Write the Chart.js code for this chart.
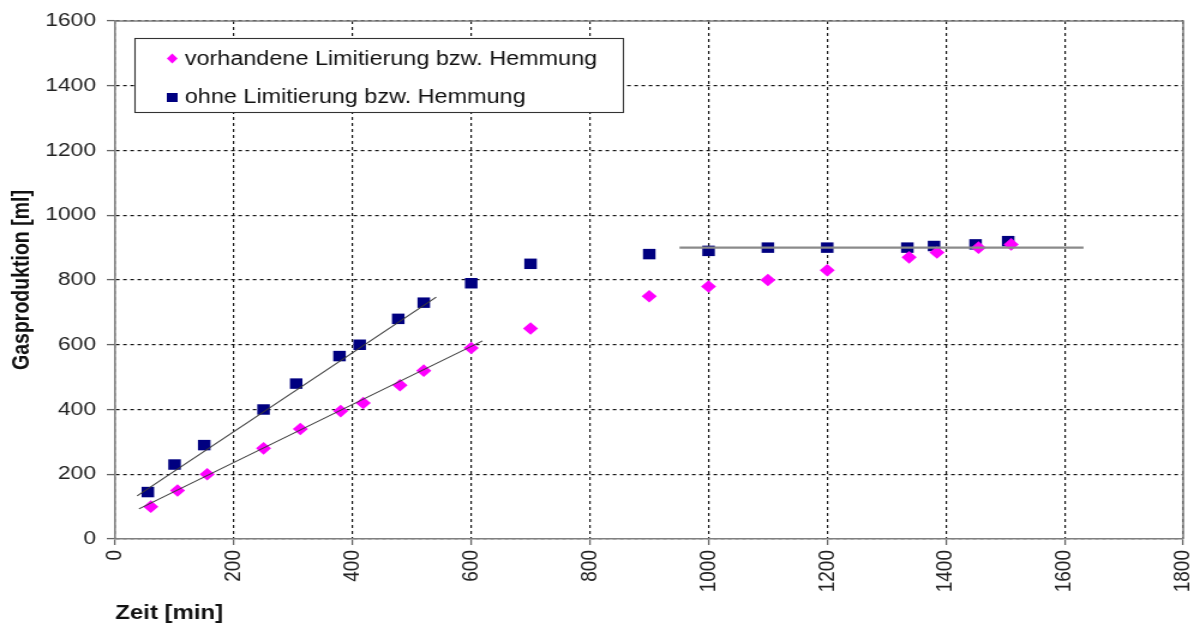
<!DOCTYPE html>
<html>
<head>
<meta charset="utf-8">
<script src="https://cdn.jsdelivr.net/npm/chart.js@4.4.1/dist/chart.umd.min.js"></script>
<style>
  html, body { margin: 0; padding: 0; background: #ffffff; overflow: hidden; }
  /* the chart is laid out 995px wide and widened to the 1194px page */
  #wrap { width: 995px; height: 626px; transform: scaleX(1.2); transform-origin: 0 0; }
  #c { display: block; }
</style>
</head>
<body>
<div id="wrap"><canvas id="c" width="995" height="626" style="width:995px;height:626px"></canvas></div>
<script>
// Measured gas production over time (minutes, ml)
const seriesLabels = ['vorhandene Limitierung bzw. Hemmung', 'ohne Limitierung bzw. Hemmung'];

const timeLimited = [60, 105, 155, 250, 312, 380, 418, 480, 520, 600, 700, 900, 1000, 1100, 1200, 1338, 1385, 1455, 1510];
const gasLimited  = [100, 150, 200, 280, 340, 395, 420, 475, 520, 590, 650, 750, 780, 800, 830, 870, 885, 900, 910];

const timeFree = [55, 100, 150, 250, 305, 378, 412, 477, 520, 600, 700, 900, 1000, 1100, 1200, 1335, 1380, 1450, 1505];
const gasFree  = [145, 230, 290, 400, 480, 565, 600, 680, 730, 790, 850, 880, 890, 900, 900, 900, 905, 910, 920];

// Linear trend lines (start / end points)
const trendFreeX = [37, 541];
const trendFreeY = [133, 747];
const trendLimitedX = [40, 619];
const trendLimitedY = [93, 612];
const plateauX = [951, 1632];
const plateauY = [900, 900];

const xTicks = [0, 200, 400, 600, 800, 1000, 1200, 1400, 1600, 1800];
const yTicks = [0, 200, 400, 600, 800, 1000, 1200, 1400, 1600];

const toPoints = (xs, ys) => xs.map((x, i) => ({ x: x, y: ys[i] }));

const FONT = "'Liberation Sans', Arial, sans-serif";

// Frame around the plot area and an in-plot legend box
const framePlugin = {
  id: 'frame',
  afterDraw(chart) {
    const { ctx, chartArea: a } = chart;
    ctx.save();
    ctx.strokeStyle = '#808080';
    ctx.lineWidth = 1.6;
    ctx.beginPath();
    ctx.moveTo(a.left, a.top);
    ctx.lineTo(a.right, a.top);
    ctx.lineTo(a.right, a.bottom);
    ctx.stroke();

    // legend
    const bx = a.left + 16.5, by = a.top + 17.5, bw = 407, bh = 74;
    ctx.fillStyle = '#ffffff';
    ctx.fillRect(bx, by, bw, bh);
    ctx.strokeStyle = '#333333';
    ctx.lineWidth = 1.1;
    ctx.strokeRect(bx, by, bw, bh);

    const mx = bx + 31;
    const rows = [by + 20, by + 59];
    // diamond
    ctx.fillStyle = '#ff00ff';
    ctx.beginPath();
    ctx.moveTo(mx, rows[0] - 5);
    ctx.lineTo(mx + 4.5, rows[0]);
    ctx.lineTo(mx, rows[0] + 5);
    ctx.lineTo(mx - 4.5, rows[0]);
    ctx.closePath();
    ctx.fill();
    // square
    ctx.fillStyle = '#000080';
    ctx.fillRect(mx - 4.5, rows[1] - 4.5, 9, 9);

    ctx.fillStyle = '#111111';
    ctx.font = '19.5px ' + FONT;
    ctx.textBaseline = 'middle';
    ctx.textAlign = 'left';
    ctx.fillText(seriesLabels[0], bx + 41.5, rows[0] + 1);
    ctx.fillText(seriesLabels[1], bx + 41.5, rows[1]);
    ctx.restore();
  }
};

const trendStyle = {
  showLine: true,
  pointRadius: 0,
  pointHoverRadius: 0,
  fill: false,
  borderColor: '#3a3a3a',
  borderWidth: 1.1
};

const gridOpts = {
  color: '#151515',
  lineWidth: 1.2,
  borderDash: [3, 3],
  drawTicks: true,
  tickColor: '#666666',
  tickBorderDash: [],
  tickWidth: 1.3
};

new Chart(document.getElementById('c'), {
  type: 'scatter',
  data: {
    datasets: [
      Object.assign({ data: toPoints(trendFreeX, trendFreeY) }, trendStyle),
      Object.assign({ data: toPoints(trendLimitedX, trendLimitedY) }, trendStyle),
      Object.assign({ data: toPoints(plateauX, plateauY) }, trendStyle, { borderColor: '#8a8a8a', borderWidth: 2.4 }),
      {
        label: seriesLabels[0],
        data: toPoints(timeLimited, gasLimited),
        pointStyle: 'rectRot',
        pointRadius: 6.3,
        backgroundColor: '#ff00ff',
        borderColor: '#ff00ff',
        borderWidth: 0
      },
      {
        label: seriesLabels[1],
        data: toPoints(timeFree, gasFree),
        pointStyle: 'rect',
        pointRadius: 7.4,
        backgroundColor: '#000080',
        borderColor: '#000080',
        borderWidth: 0
      }
    ]
  },
  options: {
    responsive: false,
    maintainAspectRatio: false,
    animation: false,
    devicePixelRatio: 1,
    layout: { padding: { top: 21, right: 9, left: 0, bottom: 0 } },
    plugins: {
      legend: { display: false },
      tooltip: { enabled: false }
    },
    scales: {
      x: {
        type: 'linear',
        min: 0,
        max: 1800,
        afterBuildTicks(scale) { scale.ticks = xTicks.map(v => ({ value: v })); },
        afterFit(scale) {
          scale.height = 87;
          scale.paddingLeft = 0;
          scale.paddingRight = 0;
        },
        border: { display: true, color: '#808080', width: 1.6, dash: [3, 3] },
        grid: Object.assign({ tickLength: 6 }, gridOpts),
        ticks: {
          minRotation: 90,
          maxRotation: 90,
          padding: 5,
          color: '#222222',
          font: { family: FONT, size: 19 },
          callback: v => String(v)
        },
        title: {
          display: true,
          text: 'Zeit [min]',
          align: 'start',
          color: '#111111',
          font: { family: FONT, size: 20, weight: 'bold' },
          padding: { top: 0, bottom: 1 }
        }
      },
      y: {
        type: 'linear',
        min: 0,
        max: 1600,
        afterBuildTicks(scale) { scale.ticks = yTicks.map(v => ({ value: v })); },
        afterFit(scale) {
          scale.width = 96;
          scale.paddingTop = 0;
          scale.paddingBottom = 0;
        },
        border: { display: true, color: '#808080', width: 1.6, dash: [3, 3] },
        grid: Object.assign({ tickLength: 7 }, gridOpts),
        ticks: {
          padding: 9,
          color: '#222222',
          font: { family: FONT, size: 19 },
          callback: v => String(v)
        },
        title: {
          display: true,
          text: 'Gasproduktion [ml]',
          color: '#111111',
          font: { family: FONT, size: 19.5, weight: 'bold' },
          padding: { top: 7, bottom: 0 }
        }
      }
    }
  },
  plugins: [framePlugin]
});
</script>
</body>
</html>
